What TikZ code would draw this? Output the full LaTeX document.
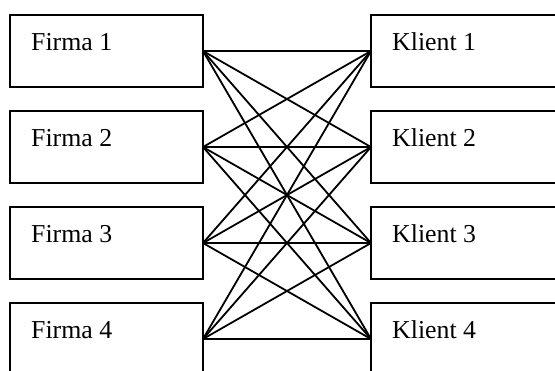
\documentclass[tikz,border=0pt]{standalone}
\usepackage{fontspec}
\setmainfont{Liberation Serif}
\begin{document}
\begin{tikzpicture}[x=1pt,y=-1pt,
  box/.style={draw, line width=1.7pt, minimum width=193pt, minimum height=72pt,
              inner sep=0pt, outer sep=0pt, anchor=north west},
  lbl/.style={font=\fontsize{25.8}{30}\selectfont, anchor=base west, inner sep=0pt},
  link/.style={line width=1.8pt}]
\useasboundingbox (0,0) rectangle (555,370);
\clip (0,0) rectangle (555,370);
% firms on the left, clients on the right
\foreach \i in {1,...,4} {
  \node[box] (f\i) at (10, {15+96*(\i-1)}) {};
  \node[lbl] (ft\i) at ([shift={(21,35)}]f\i.north west) {Firma \i};
  \node[box] (k\i) at (371, {15+96*(\i-1)}) {};
  \node[lbl] (kt\i) at ([shift={(21,35)}]k\i.north west) {Klient \i};
}
% every firm linked with every client
\foreach \i in {1,...,4} {
  \foreach \j in {1,...,4} {
    \draw[link] (f\i.east) -- (k\j.west);
  }
}
\end{tikzpicture}
\end{document}
